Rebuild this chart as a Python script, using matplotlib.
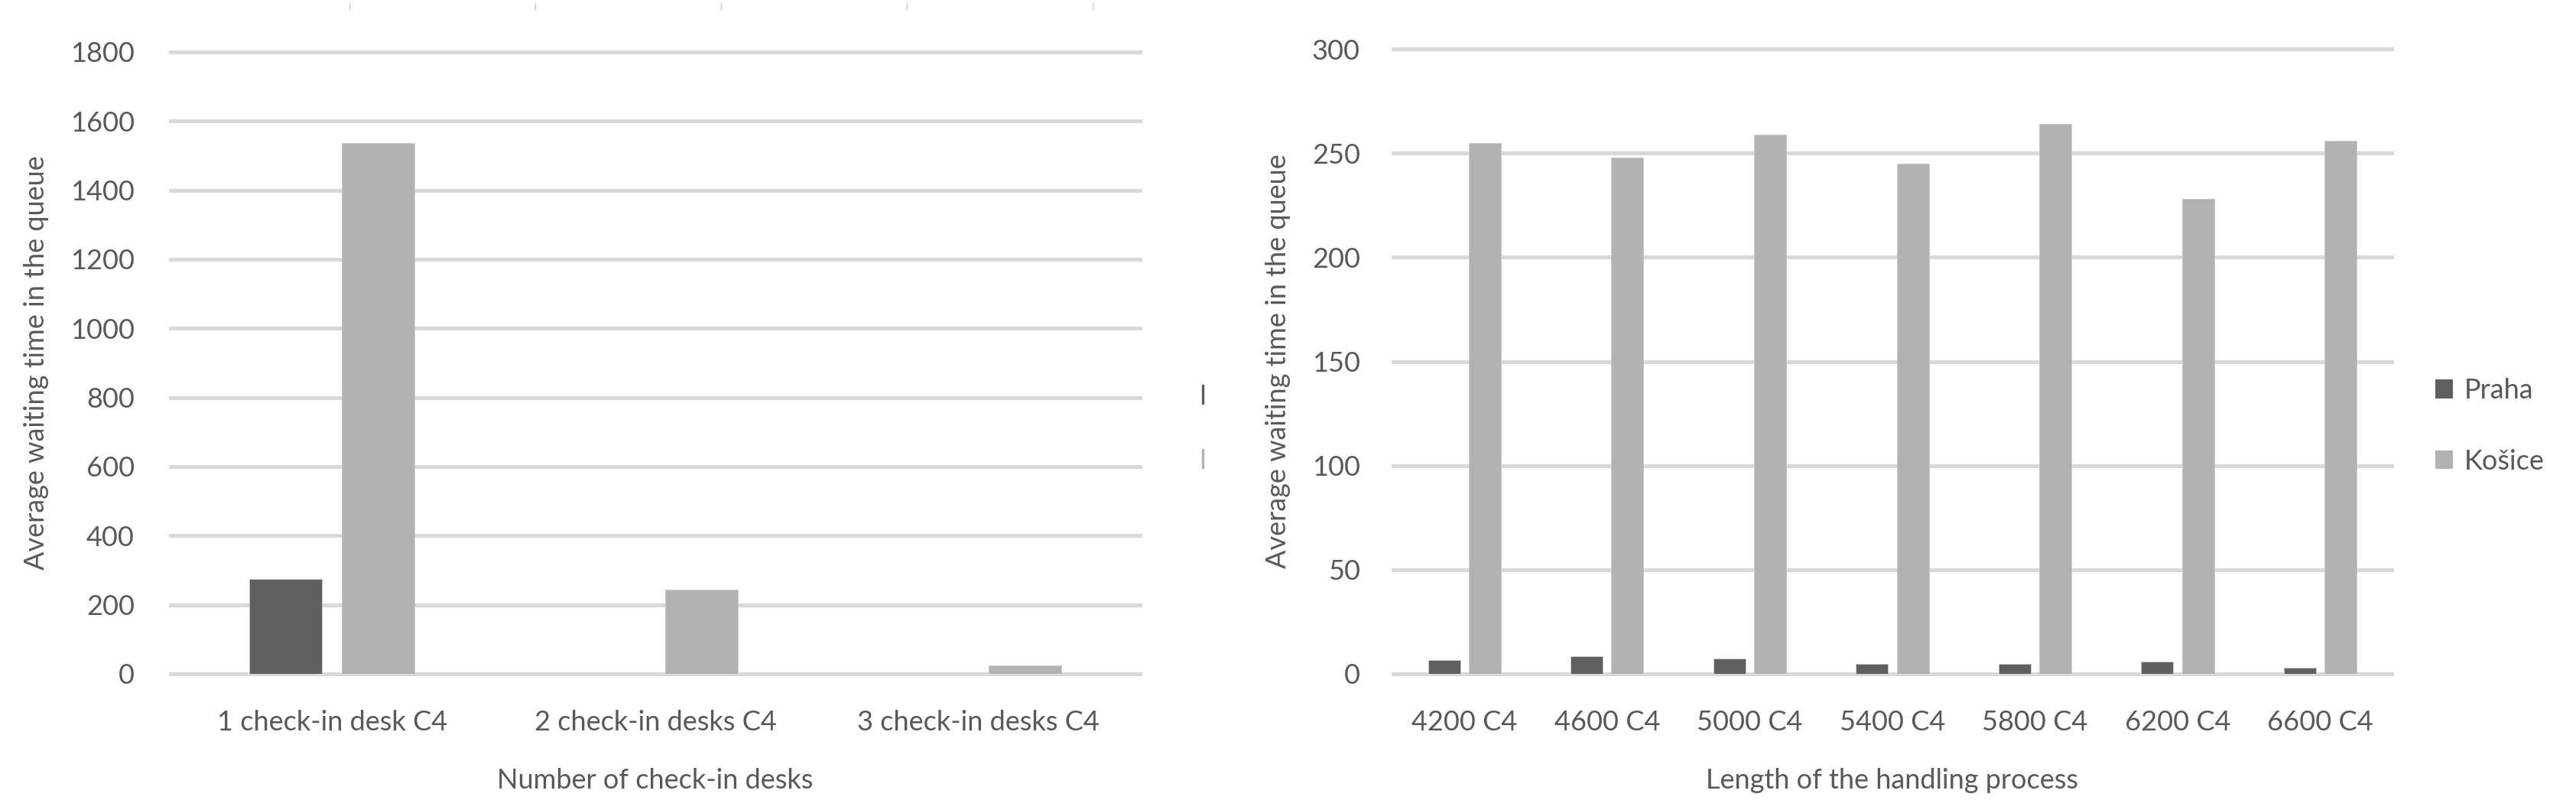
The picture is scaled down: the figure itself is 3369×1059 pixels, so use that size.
import numpy as np
import matplotlib
matplotlib.use("Agg")
import matplotlib.pyplot as plt
from matplotlib.patches import Patch, Rectangle
from matplotlib.lines import Line2D

plt.rcParams['font.family'] = ['Lato', 'DejaVu Sans']

# left chart data
desk_labels = ["1 check-in desk C4", "2 check-in desks C4", "3 check-in desks C4"]
desk_praha = [275, 0, 0]
desk_kosice = [1537, 243, 24]

# right chart data
proc_labels = ["4200 C4", "4600 C4", "5000 C4", "5400 C4", "5800 C4", "6200 C4", "6600 C4"]
proc_praha = [6.6, 8.4, 7.5, 4.8, 4.8, 5.8, 2.9]
proc_kosice = [255, 248, 259, 245, 264, 228, 256]

series_names = ["Praha", "Košice"]

dark = "#5f5f5f"
light = "#b2b2b2"
grid_c = "#d9d9d9"
txt = "#595959"
fs = 26

fig = plt.figure(figsize=(33.69, 10.59), dpi=100)
ax1 = fig.add_axes([0.0662, 0.1681, 0.3764, 0.7677])
ax2 = fig.add_axes([0.5408, 0.1681, 0.3876, 0.7714])


def draw(ax, labels, praha, kosice, ymax, step, xlabel, pad):
    x = np.arange(len(labels))
    w = 0.225
    off = 0.143
    ax.bar(x - off, praha, w, color=dark, edgecolor="#c8c8c8", linewidth=0.6, zorder=3)
    ax.bar(x + off, kosice, w, color=light, edgecolor="#c8c8c8", linewidth=0.6, zorder=3)
    ticks = np.arange(0, ymax + 1, step)
    for t in ticks:
        ax.axhline(t, color=grid_c, lw=3.6, zorder=1, clip_on=False)
    ax.set_xlim(-0.5, len(labels) - 0.5)
    ax.set_ylim(0, ymax)
    ax.set_yticks(ticks)
    ax.set_xticks(x)
    ax.set_xticklabels(labels)
    for s in ax.spines.values():
        s.set_visible(False)
    ax.tick_params(axis="y", length=0, pad=pad, labelsize=fs, labelcolor=txt)
    ax.tick_params(axis="x", length=0, pad=34, labelsize=fs, labelcolor=txt)
    ax.set_xlabel(xlabel, fontsize=fs, color=txt, labelpad=31)
    ax.set_ylabel("Average waiting time in the queue", fontsize=fs, color=txt, labelpad=20)


draw(ax1, desk_labels, desk_praha, desk_kosice, 1800, 200, "Number of check-in desks", 34)
draw(ax2, proc_labels, proc_praha, proc_kosice, 300, 50, "Length of the handling process", 31)

handles = [Patch(facecolor=dark, edgecolor="none"), Patch(facecolor=light, edgecolor="none")]
fig.legend(handles, series_names, loc="center left", bbox_to_anchor=(3185 / 3369, 1 - 557 / 1059),
           frameon=False, fontsize=fs, labelcolor=txt, handlelength=0.65, handleheight=0.65,
           handletextpad=0.4, labelspacing=1.65, borderpad=0, borderaxespad=0)

# remnants of cropped legend/chart
fig.patches.append(Rectangle((1572 / 3369, 1 - 528 / 1059), 2 / 3369, 25 / 1059,
                             transform=fig.transFigure, color=dark, figure=fig))
fig.patches.append(Rectangle((1572 / 3369, 1 - 612 / 1059), 2 / 3369, 25 / 1059,
                             transform=fig.transFigure, color=light, figure=fig))
for xp in [457, 700, 943, 1186, 1429]:
    fig.lines.append(Line2D([xp / 3369] * 2, [1 - 4 / 1059, 1 - 12 / 1059],
                            transform=fig.transFigure, color="#c8c8c8", lw=1, figure=fig))

fig.savefig("out.png", dpi=100, facecolor="white")
